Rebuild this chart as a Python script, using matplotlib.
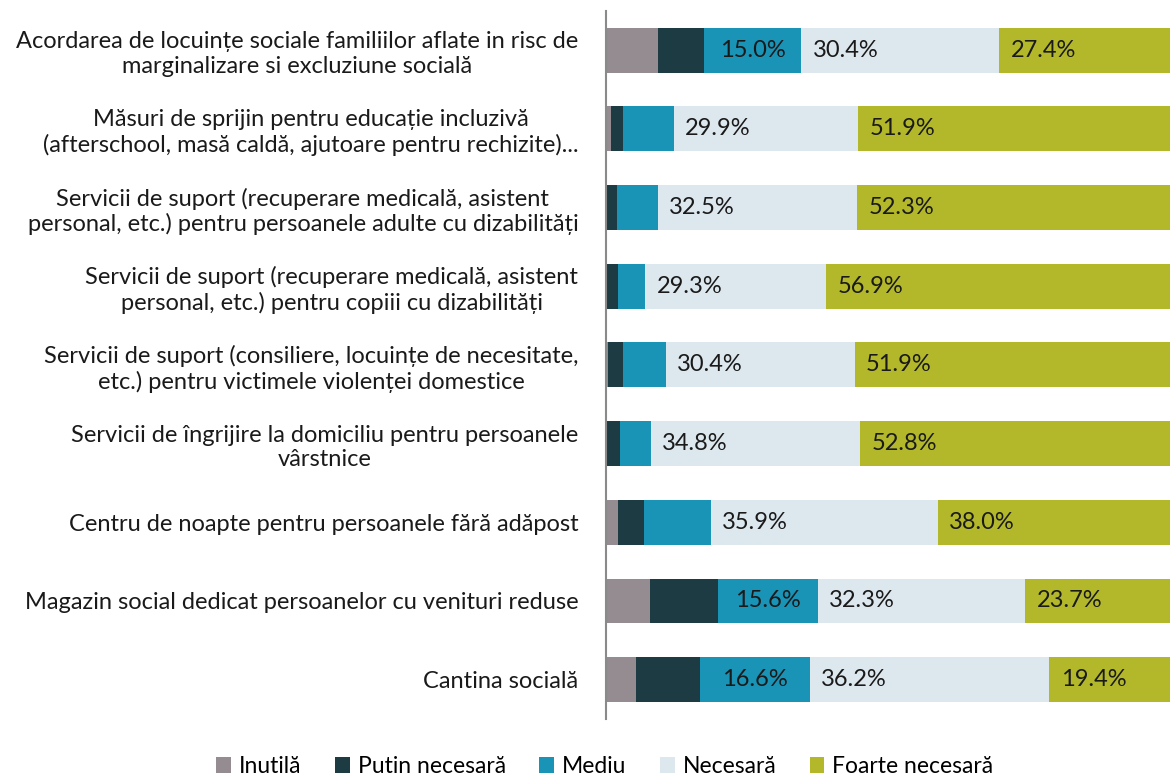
import numpy as np
import matplotlib.pyplot as plt

plt.rcParams['font.family'] = ['Lato', 'DejaVu Sans']

categories = [
    "Acordarea de locuințe sociale familiilor aflate in risc de\nmarginalizare si excluziune socială",
    "Măsuri de sprijin pentru educație incluzivă\n(afterschool, masă caldă, ajutoare pentru rechizite)...",
    "Servicii de suport (recuperare medicală, asistent\npersonal, etc.) pentru persoanele adulte cu dizabilități",
    "Servicii de suport (recuperare medicală, asistent\npersonal, etc.) pentru copiii cu dizabilități",
    "Servicii de suport (consiliere, locuințe de necesitate,\netc.) pentru victimele violenței domestice",
    "Servicii de îngrijire la domiciliu pentru persoanele\nvârstnice",
    "Centru de noapte pentru persoanele fără adăpost",
    "Magazin social dedicat persoanelor cu venituri reduse",
    "Cantina socială",
]
series = ["Inutilă", "Putin necesară", "Mediu", "Necesară", "Foarte necesară"]

inutila = [8.0, 0.8, 0.2, 0.2, 0.3, 0.2, 1.9, 6.8, 4.5]
putin = [7.0, 1.9, 1.6, 1.8, 2.4, 2.1, 4.1, 10.6, 9.7]
mediu = [15.0, 8.3, 6.6, 4.3, 6.9, 5.1, 10.6, 15.6, 16.6]
necesara = [30.4, 29.9, 32.5, 29.3, 30.4, 34.8, 35.9, 32.3, 36.2]
foarte = [27.4, 51.9, 52.3, 56.9, 51.9, 52.8, 38.0, 23.7, 19.4]

colors = ["#958c91", "#1d3b43", "#1993b6", "#dde7ee", "#b3b82a"]

data = np.array([inutila, putin, mediu, necesara, foarte])
shares = data / data.sum(axis=0) * 100  # 100% stacked

fig = plt.figure(figsize=(11.7, 7.76), dpi=100)
ax = fig.add_axes([0.518, 0.0735, 0.482, 0.9125])

y = np.arange(len(categories))
left = np.zeros(len(categories))
for k in range(len(series)):
    ax.barh(y, shares[k], left=left, height=0.57, color=colors[k], label=series[k])
    for i in range(len(categories)):
        v = data[k, i]
        if v >= 15:
            if k == 2:
                ax.text(left[i] + shares[k, i] / 2, y[i], f"{v:.1f}%", ha='center', va='center',
                        fontsize=17, color='#1a1a1a')
            else:
                ax.text(left[i] + 2.0, y[i], f"{v:.1f}%", ha='left', va='center',
                        fontsize=17, color='#1a1a1a')
    left += shares[k]

ax.set_xlim(0, 98.7)
ax.set_ylim(len(categories) - 0.5, -0.5)
ax.set_yticks(y)
ax.set_yticklabels(categories, fontsize=17, multialignment='center', color='#1a1a1a')
ax.tick_params(axis='y', length=0, pad=20)
ax.set_xticks([])
for s in ['top', 'right', 'bottom']:
    ax.spines[s].set_visible(False)
ax.spines['left'].set_color('#8a8a8a')
ax.spines['left'].set_linewidth(1.5)

fig.legend(loc='center', bbox_to_anchor=(0.517, 0.012), ncol=5, frameon=False,
           fontsize=16.5, handlelength=0.65, handleheight=0.65, handletextpad=0.35,
           columnspacing=1.45, borderaxespad=0)

fig.savefig("out.png", dpi=100)
